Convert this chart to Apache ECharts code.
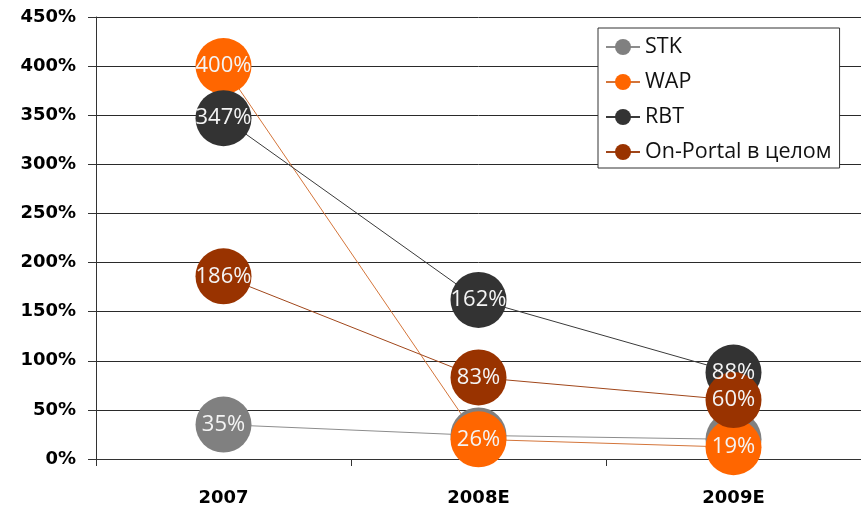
<!DOCTYPE html>
<html>
<head>
<meta charset="utf-8">
<script src="https://cdn.jsdelivr.net/npm/echarts@6/dist/echarts.min.js"></script>
<style>
  html, body { margin: 0; padding: 0; background: #fff; }
  #chart { width: 861px; height: 507px; }
</style>
</head>
<body>
<div id="chart"></div>
<script>
const categories = ['2007', '2008E', '2009E'];
const seriesNames = ['STK', 'WAP', 'RBT', 'On-Portal в целом'];

// plotted positions
const stkValues = [35, 24, 20];
const wapValues = [400, 20, 12];
const rbtValues = [347, 162, 88];
const portalValues = [186, 83, 60];

// label texts as printed on the bubbles
const stkLabels = ['35%', '', ''];
const wapLabels = ['400%', '26%', '19%'];
const rbtLabels = ['347%', '162%', '88%'];
const portalLabels = ['186%', '83%', '60%'];

const colors = ['#808080', '#ff6600', '#333333', '#993300'];
const lineColors = ['#8c8c8c', '#d4753a', '#3a3a3a', '#a0461a'];

function makeSeries(idx, values, labels) {
  return {
    name: seriesNames[idx],
    type: 'line',
    data: values,
    symbol: 'circle',
    symbolSize: 56,
    color: colors[idx],
    itemStyle: { color: colors[idx] },
    lineStyle: { color: lineColors[idx], width: 1 },
    label: {
      show: true,
      position: 'inside',
      color: '#f4f4f4',
      fontFamily: 'Open Sans',
      fontSize: 22,
      formatter: p => labels[p.dataIndex]
    },
    emphasis: { disabled: true }
  };
}

const chart = echarts.init(document.getElementById('chart'));
chart.setOption({
  animation: false,
  grid: { left: 96, right: 0, top: 17, bottom: 47 },
  legend: {
    orient: 'vertical',
    left: 598,
    top: 28,
    padding: [8, 8, 5, 7],
    itemWidth: 34,
    itemHeight: 20,
    itemGap: 13,
    backgroundColor: '#fff',
    borderColor: '#333',
    borderWidth: 1,
    borderRadius: 0,
    textStyle: { fontFamily: 'Open Sans', fontSize: 21.5, color: '#111' },
    data: seriesNames
  },
  xAxis: {
    type: 'category',
    data: categories,
    boundaryGap: true,
    axisLine: { lineStyle: { color: '#333', width: 1 } },
    axisTick: { show: true, length: 7, inside: false, lineStyle: { color: '#333' } },
    axisLabel: {
      margin: 30,
      color: '#000',
      fontFamily: 'DejaVu Sans',
      fontWeight: 'bold',
      fontSize: 18
    }
  },
  yAxis: {
    type: 'value',
    min: 0,
    max: 450,
    interval: 50,
    axisLine: { show: true, lineStyle: { color: '#333', width: 1 } },
    axisTick: { show: true, length: 8, lineStyle: { color: '#333' } },
    splitLine: { show: true, lineStyle: { color: '#2a2a2a', width: 1 } },
    axisLabel: {
      formatter: '{value}%',
      margin: 20,
      color: '#000',
      fontFamily: 'DejaVu Sans',
      fontWeight: 'bold',
      fontSize: 18
    }
  },
  series: [
    makeSeries(0, stkValues, stkLabels),
    makeSeries(1, wapValues, wapLabels),
    makeSeries(2, rbtValues, rbtLabels),
    makeSeries(3, portalValues, portalLabels)
  ]
});
</script>
</body>
</html>
